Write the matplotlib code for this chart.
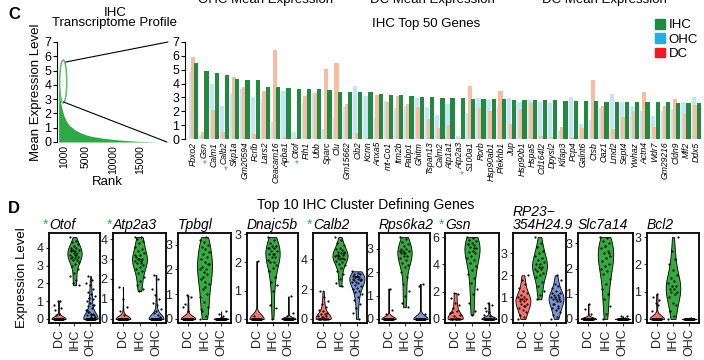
import numpy as np
import matplotlib
matplotlib.use("Agg")
from matplotlib import pyplot as plt
from matplotlib.patches import Ellipse, ConnectionPatch, Patch
from matplotlib.transforms import IdentityTransform

plt.rcParams['font.family'] = ['Liberation Sans', 'DejaVu Sans']

# ---- panel C, left: IHC transcriptome ranked by mean expression
profile_rank = [1, 50, 100, 200, 400, 700, 1000, 1500, 2000, 3000, 4000, 5000,
                6000, 8000, 10000, 12000, 14000, 16000, 17900]
profile_mean = [5.6, 4.3, 3.8, 3.2, 2.7, 2.2, 1.8, 1.4, 1.15, 0.85, 0.65, 0.5,
                0.4, 0.27, 0.18, 0.11, 0.06, 0.03, 0.01]
rank_ticks = [1000, 5000, 10000, 15000]

# ---- panel C, right: IHC top 50 genes
top50_genes = ['Fbxo2', 'Gsn', 'Calm1', 'Calb2', 'Skp1a', 'Gm20594', 'Fcrlb', 'Lars2',
               'Ceacam16', 'Apba1', 'Otof', 'Fth1', 'Ubb', 'Sparc', 'Clu', 'Gm15662',
               'Cib2', 'Kcnn', 'Anxa5', 'mt-Co1', 'Itm2b', 'Pabp1', 'Ghitm', 'Tspan13',
               'Calm2', 'Atp1a1', 'Atp2a3', 'S100a1', 'Rorb', 'Hsp90ab1', 'Plekhb1', 'Jup',
               'Hsp90b1', 'Hspa5', 'Cd164l2', 'Dpysl2', 'Kifap3', 'Pcp4', 'Galnt6', 'Ctsb',
               'Oaz1', 'Lmd2', 'Sept4', 'Ywhaz', 'Actn4', 'Wdr7', 'Gm29216', 'Cldn9',
               'Mlf2', 'Ddx5']
starred = ['Gsn', 'Calb2', 'Otof', 'Atp2a3']
ihc_mean = [5.5, 4.9, 4.75, 4.6, 4.3, 4.25, 4.25, 3.75, 3.75, 3.68, 3.6, 3.6, 3.6,
            3.55, 3.4, 3.4, 3.4, 3.4, 3.25, 3.15, 3.15, 3.1, 3.0, 3.0, 2.95, 2.95,
            2.95, 2.9, 2.9, 2.9, 2.9, 2.8, 2.8, 2.8, 2.8, 2.8, 2.75, 2.75, 2.75, 2.75,
            2.65, 2.65, 2.65, 2.65, 2.65, 2.65, 2.65, 2.6, 2.6, 2.6]
ohc_mean = [4.8, 0.3, 3.95, 2.4, 3.3, 3.6, 3.0, 2.9, 1.2, 3.5, 0.5, 2.6, 3.3,
            0.75, 1.55, 2.3, 3.8, 3.1, 1.55, 2.75, 2.25, 2.4, 2.95, 2.3, 1.75, 2.5,
            0.2, 1.85, 2.95, 2.8, 2.4, 2.95, 2.7, 2.8, 2.7, 2.6, 0.6, 3.05, 1.1, 1.35,
            2.25, 3.25, 2.65, 2.4, 2.05, 1.65, 2.0, 2.15, 2.7, 3.05]
dc_mean = [5.9, 0.5, 2.1, 0.5, 4.5, 3.75, 0.35, 3.46, 6.4, 0.15, 0.1, 3.1, 3.35,
           5.05, 5.5, 2.55, 0.45, 0.1, 3.2, 2.7, 3.1, 2.5, 2.3, 1.45, 0.8, 1.0,
           0.05, 3.8, 2.25, 2.0, 3.5, 1.1, 2.2, 2.6, 0.2, 0.15, 0.9, 0.15, 0.8, 4.25,
           2.4, 0.7, 1.6, 2.05, 3.4, 0.9, 2.4, 2.9, 1.8, 2.45]

# ---- panel D: top 10 IHC cluster defining genes, values per cell [DC, IHC, OHC]
top10_genes = ['Otof', 'Atp2a3', 'Tpbgl', 'Dnajc5b', 'Calb2', 'Rps6ka2', 'Gsn',
               'RP23\u2212\n354H24.9', 'Slc7a14', 'Bcl2']
top10_starred = ['Otof', 'Atp2a3', 'Calb2', 'Gsn']
groups = ['DC', 'IHC', 'OHC']

otof = [[0] * 30 + [0.3, 0.5, 0.6, 1.0, 0.8, 1.0, 0.2],
        [4.6, 4.4, 4.3, 4.2, 4.1, 4.0, 4.0, 3.9, 3.9, 3.8, 3.8, 3.7, 3.7, 3.6, 3.6, 3.5,
         3.5, 3.4, 3.4, 3.3, 3.3, 3.2, 3.1, 3.0, 2.8, 2.6, 2.4, 2.2, 2.0, 1.9, 3.6, 3.9],
        [0] * 30 + [0.1, 0.2, 0.3, 0.4, 0.5, 0.6, 0.7, 0.8, 0.9, 1.0, 1.1, 1.2, 1.3, 1.4,
                    1.5, 1.7, 1.9, 2.0, 2.2, 2.4, 0.2, 0.3, 0.5, 0.8, 1.2, 0.1, 0.2, 0.4]]
atp2a3 = [[0] * 35 + [0.2, 0.4, 0.6, 1.0, 1.6],
          [4.1, 4.1, 4.0, 3.9, 3.8, 3.6, 3.5, 3.4, 3.3, 3.2, 3.1, 3.0, 3.0, 2.9, 2.8, 2.8,
           2.7, 2.6, 2.5, 2.4, 2.3, 2.1, 1.9, 1.7, 1.5, 1.4, 3.2, 2.9, 3.0],
          [0] * 40 + [0.2, 0.3, 0.5, 0.7, 0.8, 1.0, 1.2, 1.5, 2.0, 2.2, 0.1, 0.4]]
tpbgl = [[0] * 30 + [0.3, 0.6, 0.9, 0.95, 0.5],
         [0.0, 0.1, 0.3, 0.5, 0.7, 0.9, 1.0, 1.2, 1.4, 1.5, 1.6, 1.8, 1.9, 2.0, 2.0, 2.1,
          2.2, 2.3, 2.4, 2.5, 2.6, 2.7, 2.8, 2.9, 3.0, 3.1, 3.2, 3.3, 1.7, 2.2, 1.3, 0.4],
         [0] * 40 + [0.1, 0.2, 0.3, 0.05]]
dnajc5b = [[0] * 35 + [2.05, 0.1],
           [2.9, 2.8, 2.7, 2.6, 2.6, 2.5, 2.5, 2.4, 2.4, 2.3, 2.3, 2.2, 2.2, 2.1, 2.0, 2.0,
            1.9, 1.8, 1.7, 1.5, 1.3, 1.2, 1.0, 0.5, 0.4, 0.0, 2.5, 2.3],
           [0] * 40 + [0.8, 0.1, 0.2]]
calb2 = [[0] * 12 + [0.1, 0.2, 0.3, 0.3, 0.4, 0.5, 0.6, 0.8, 1.0, 1.2, 1.5, 1.9, 0.2, 0.1],
         [5.5, 5.3, 5.1, 5.0, 4.8, 4.7, 4.6, 4.5, 4.4, 4.4, 4.3, 4.3, 4.2, 4.2, 4.1, 4.1,
          4.0, 4.0, 3.9, 3.8, 3.7, 3.6, 3.4, 3.2, 3.0, 2.7, 2.4, 2.2, 4.3, 4.5],
         [3.2, 3.1, 3.0, 3.0, 2.9, 2.9, 2.8, 2.8, 2.7, 2.7, 2.6, 2.6, 2.5, 2.5, 2.4, 2.3,
          2.2, 2.1, 2.0, 1.9, 1.8, 1.7, 1.5, 1.3, 1.0, 0.7, 0.4, 0.0, 2.8, 2.6, 2.9, 2.7]]
rps6ka2 = [[0] * 35 + [1.3, 0.2, 0.4],
           [3.5, 3.4, 3.3, 3.2, 3.1, 3.0, 3.0, 2.9, 2.9, 2.8, 2.8, 2.7, 2.7, 2.6, 2.5, 2.4,
            2.3, 2.2, 2.0, 1.8, 1.5, 1.2, 1.0, 0.7, 0.5, 2.8, 2.9],
           [0] * 40 + [1.5, 1.4, 0.2]]
gsn = [[0] * 12 + [0.2, 0.4, 0.6, 0.8, 1.0, 1.2, 1.5, 1.8, 1.9, 0.3, 0.1, 0.5],
       [6.0, 5.9, 5.8, 5.7, 5.6, 5.5, 5.4, 5.3, 5.2, 5.0, 4.9, 4.8, 4.6, 4.5, 4.3, 4.1,
        3.9, 3.6, 3.3, 3.0, 2.6, 2.2, 1.8, 1.2, 0.6, 0.3, 5.5, 5.2],
       [0] * 30 + [0.5, 0.8, 1.0, 1.2, 0.3, 0.2, 0.6]]
rp23 = [[0.0, 0.1, 0.2, 0.3, 0.4, 0.5, 0.6, 0.7, 0.7, 0.8, 0.8, 0.9, 0.9, 1.0, 1.0, 1.1,
         1.2, 1.3, 1.4, 1.6, 1.8, 2.0, 0.6, 0.9],
        [3.75, 3.5, 3.3, 3.1, 3.0, 2.9, 2.8, 2.7, 2.6, 2.5, 2.5, 2.4, 2.4, 2.3, 2.3, 2.2,
         2.1, 2.0, 1.9, 1.7, 1.5, 1.3, 1.1, 0.9],
        [0.0, 0.1, 0.2, 0.3, 0.4, 0.5, 0.6, 0.7, 0.8, 0.8, 0.9, 0.9, 1.0, 1.0, 1.1, 1.1,
         1.2, 1.3, 1.4, 1.5, 1.6, 1.8, 2.0, 0.7, 1.0, 0.9, 1.2, 0.5]]
slc7a14 = [[0] * 30 + [0.6, 0.4, 0.2],
           [3.25, 3.2, 3.1, 3.0, 2.9, 2.8, 2.7, 2.6, 2.5, 2.4, 2.3, 2.2, 2.1, 2.0, 1.9, 1.8,
            1.6, 1.4, 1.2, 1.0, 0.8, 0.5, 0.2, 0.0, 2.6, 2.9],
           [0] * 40 + [0.05, 0.1, 0.1]]
bcl2 = [[0] * 30 + [0.9, 0.8, 0.7, 0.6, 0.3, 0.5],
        [0.0, 0.1, 0.3, 0.5, 0.6, 0.8, 0.9, 1.0, 1.0, 1.1, 1.1, 1.2, 1.2, 1.3, 1.4, 1.5,
         1.6, 1.8, 2.0, 2.2, 2.5, 3.0],
        [0] * 40 + [0.05]]
top10_values = [otof, atp2a3, tpbgl, dnajc5b, calb2, rps6ka2, gsn, rp23, slc7a14, bcl2]
top10_ystep = [1, 1, 1, 1, 2, 1, 2, 1, 1, 1]

# ---- layout helpers (pixel boxes of the 704x360 picture)
W, H = 704, 360


def box(x0, y0, x1, y1):
    return [x0 / W, 1 - y1 / H, (x1 - x0) / W, (y1 - y0) / H]


green = '#218A41'
star_green = '#3BAA5A'
fig = plt.figure(figsize=(W / 100, H / 100), dpi=100)

# clipped headings of the panel above
for xc, s in [(266, 'OHC Mean Expression'), (432, 'DC Mean Expression'), (604, 'DC Mean Expression')]:
    fig.text(xc / W, 1 - 3.5 / H, s, ha='center', va='baseline', fontsize=9.5)

fig.text(8 / W, 1 - 19 / H, 'C', fontsize=12, fontweight='bold')
fig.text(8 / W, 1 - 213 / H, 'D', fontsize=12, fontweight='bold')

# ---- C left
ax1 = fig.add_axes(box(57, 42, 157, 142))
ax1.fill_between(profile_rank, profile_mean, 0, color='#2DAA47', linewidth=0)
ax1.set_xlim(-300, 18000)
ax1.set_ylim(0, 7)
ax1.set_yticks(range(0, 8))
ax1.set_xticks(rank_ticks)
ax1.set_xticklabels([str(t) for t in rank_ticks], rotation=90, fontsize=7.5)
ax1.tick_params(axis='x', length=0, pad=2)
ax1.tick_params(axis='y', labelsize=9, length=3, pad=1)
for sp in ['top', 'right', 'bottom']:
    ax1.spines[sp].set_visible(False)
ax1.set_xlabel('Rank', fontsize=9.5, labelpad=2)
ax1.set_ylabel('Mean Expression Level', fontsize=9.5, labelpad=2)
ax1.patch.set_alpha(0)
ell = Ellipse((840, 4.23), width=1300, height=3.0, fill=False, edgecolor='#5DBE6A',
              linewidth=1.1, clip_on=False)
ax1.add_patch(ell)
fig.text(115 / W, 1 - 18 / H, 'IHC\nTranscriptome Profile', ha='center', va='center',
         fontsize=9.5, linespacing=0.85)

# ---- C right
ax2 = fig.add_axes(box(185, 42, 702, 139))
x = np.arange(len(top50_genes))
ax2.bar(x - 0.24, ohc_mean, width=0.42, color='#C6E5F2', linewidth=0)
ax2.bar(x - 0.08, dc_mean, width=0.42, color='#F6BDA3', linewidth=0)
ax2.bar(x + 0.25, ihc_mean, width=0.42, color=green, linewidth=0)
ax2.set_xlim(-0.84, 49.56)
ax2.set_ylim(0, 7)
ax2.set_yticks(range(0, 8))
ax2.set_xticks(x)
ax2.set_xticklabels(top50_genes, rotation=90, fontsize=6.2, style='italic')
ax2.tick_params(axis='x', length=0, pad=2)
ax2.tick_params(axis='y', labelsize=9, length=3, pad=1)
for sp in ['top', 'right', 'bottom']:
    ax2.spines[sp].set_visible(False)
ax2.patch.set_alpha(0)
fig.text(426 / W, 1 - 24 / H, 'IHC Top 50 Genes', ha='center', va='center', fontsize=9.5)

for xy1, xy2 in [((1300, 5.6), (-0.033, 1.0)), ((900, 2.8), (-0.035, -0.031))]:
    con = ConnectionPatch(xyA=xy1, coordsA=ax1.transData, xyB=xy2, coordsB=ax2.transAxes,
                          color='black', linewidth=0.8)
    fig.add_artist(con)

fig.legend(handles=[Patch(color='#1E8B43', label='IHC'), Patch(color='#29ABE2', label='OHC'),
                    Patch(color='#ED1C24', label='DC')],
           loc='upper left', bbox_to_anchor=(655 / W, 1 - 19 / H), frameon=False, fontsize=9.5,
           handlelength=0.75, handleheight=0.75, handletextpad=0.3, labelspacing=0.15,
           borderpad=0, borderaxespad=0)

# ---- D violins
d_boxes = [(49, 233, 100, 323), (113, 233, 166, 323), (178, 233, 231, 323), (247, 233, 298, 323),
           (313, 233, 367, 323), (379, 233, 430, 323), (445, 233, 499, 323), (513, 233, 566, 323),
           (578, 233, 633, 323), (647, 233, 699, 323)]
violin_cols = ['#F8766D', '#36AA3E', '#7596D2']
d_axes = []
for k, (name, vals) in enumerate(zip(top10_genes, top10_values)):
    ax = fig.add_axes(box(*d_boxes[k]))
    d_axes.append(ax)
    parts = ax.violinplot(vals, positions=[1, 2, 3], widths=0.9, showextrema=False)
    for body, col in zip(parts['bodies'], violin_cols):
        body.set_facecolor(col)
        body.set_edgecolor('black')
        body.set_linewidth(0.6)
        body.set_alpha(1)
    for j, v in enumerate(vals):
        jit = np.array([((n * 0.618034) % 1 - 0.5) * 0.6 for n in range(len(v))])
        ax.scatter(jit + j + 1, v, s=2.5, color='black', linewidths=0, zorder=3)
    lo = min(min(v) for v in vals)
    hi = max(max(v) for v in vals)
    pad = 0.05 * (hi - lo)
    ax.set_ylim(lo - pad, hi + pad)
    ax.set_yticks(np.arange(0, hi + pad + 0.01, top10_ystep[k]))
    ax.set_xlim(0.4, 3.6)
    ax.set_xticks([1, 2, 3])
    ax.set_xticklabels(groups, rotation=90, fontsize=9)
    ax.tick_params(axis='both', length=2.5, width=0.8, color='#333333', labelcolor='#222222', pad=1.5)
    ax.tick_params(axis='y', labelsize=9)
    for sp in ax.spines.values():
        sp.set_linewidth(1.3)
    ax.text(0, 1.015, name, transform=ax.transAxes, ha='left', va='bottom', fontsize=10,
            style='italic', linespacing=0.85)
    if name in top10_starred:
        ax.text(-0.01, 1.015, '*', transform=ax.transAxes, ha='right', va='bottom',
                fontsize=10, color=star_green)
d_axes[0].set_ylabel('Expression Level', fontsize=9.5, labelpad=6)
fig.text(366 / W, 1 - 205 / H, 'Top 10 IHC Cluster Defining Genes', ha='center', va='center',
         fontsize=10)

# green asterisks under the starred top-50 labels
fig.canvas.draw()
renderer = fig.canvas.get_renderer()
for lab in ax2.get_xticklabels():
    if lab.get_text() in starred:
        bb = lab.get_window_extent(renderer)
        fig.text((bb.x0 + bb.x1) / 2 + 1, bb.y0 - 1, '*', transform=IdentityTransform(),
                 ha='center', va='top', fontsize=7, color=star_green)

fig.savefig('out.png', dpi=100)
